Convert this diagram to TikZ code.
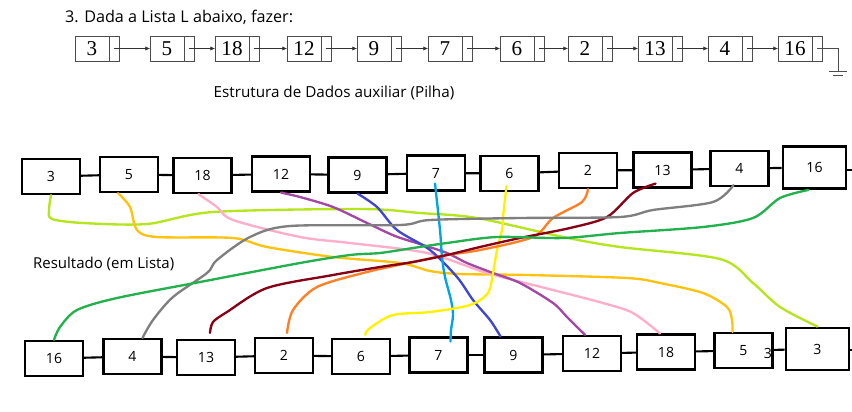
\documentclass[tikz,border=0pt]{standalone}
\usepackage{fontspec}
\setmainfont{Open Sans}
\newfontfamily\numfont{Liberation Serif}
\usetikzlibrary{positioning,calc,arrows.meta}
\definecolor{clime}{HTML}{B5E61D}
\definecolor{cgold}{HTML}{FFC20E}
\definecolor{cpink}{HTML}{FFAEC9}
\definecolor{cpurple}{HTML}{A349A4}
\definecolor{cblue}{HTML}{3F48CC}
\definecolor{csky}{HTML}{00A2E8}
\definecolor{cyellow}{HTML}{FFF200}
\definecolor{corange}{HTML}{FF7F27}
\definecolor{cmaroon}{HTML}{880015}
\definecolor{cgray}{HTML}{7F7F7F}
\definecolor{cgreen}{HTML}{22B14C}
\tikzset{
  cell/.style={draw=black!70, line width=0.6pt, outer sep=0pt, inner sep=0pt, minimum height=7.5mm},
  datacell/.style={cell, minimum width=10.2mm, font=\numfont\fontsize{18}{18}\selectfont},
  ptrcell/.style={cell, minimum width=3mm},
  hbox/.style={draw, line width=1.9pt, minimum width=17.4mm, minimum height=10.5mm, font=\fontsize{12}{12}\selectfont},
  bigbox/.style={hbox, line width=2.4pt, minimum width=18.9mm, minimum height=12.6mm},
  link/.style={line width=1.8pt},
  trail/.style={line width=2pt, line cap=round, line join=round}
}
\begin{document}
\begin{tikzpicture}[x=0.3mm, y=-0.3mm]
        \useasboundingbox (0,0) rectangle (852,411);
        \node[anchor=west, font=\fontsize{13.8}{16}\selectfont] (title) at (61,17) {3. Dada a Lista L abaixo, fazer:};
        \node[font=\fontsize{13}{15}\selectfont] (aux) at (334,93) {Estrutura de Dados auxiliar (Pilha)};
        \node[anchor=west, font=\fontsize{12.8}{15}\selectfont] (res) at (29,264) {Resultado (em Lista)};
        % lista L
        \foreach \x/\v [count=\i] in {75/3, 150/5, 215/18, 287/12, 357/9, 428/7, 500/6, 568/2, 638/13, 708/4, 778/16}
            {\node[datacell, anchor=west] (a\i) at (\x, 48.5) {\v}; \node[ptrcell, right=0pt of a\i] (p\i) {};};
        \foreach \i [evaluate=\i as \j using int(\i+1)] in {1,...,10}
            \draw[black!80, -{Latex[length=4pt, width=3.5pt]}] (p\i.center) -- (a\j);
        \coordinate (g) at (838, 71);
        \draw[black!70, line width=0.6pt] (p11.center) -|  (g);
        \draw[black!70, line width=0.6pt] ($(g)+(-9,0)$) -- ($(g)+(9,0)$) ($(g)+(-5,4)$) -- ($(g)+(5,4)$);
        % pilha
        \foreach \x/\y/\v in {51/176.5/3, 129/174.5/5, 202.5/175.5/18, 281/174/12, 357.5/175/9, 436/173/7, 509.5/173.5/6, 588/170.5/2, 662.5/170/13, 739.5/168.5/4}
            \node[hbox] (u\v) at (\x, \y) {\v};
        \node[bigbox] (u16) at (814.5, 167.5) {16};
        % resultado
        \foreach \x/\y/\v in {54/358.5/16, 132.5/356.5/4, 206/357.5/13, 284/355.5/2, 361/356.5/6, 438.5/355/7, 513.5/355/9, 592/353.5/12, 666/352/18, 743.5/350.5/5}
            \node[hbox] (v\v) at (\x, \y) {\v};
        \node[bigbox] (v3) at (817.5, 349) {3};
        \node[font=\fontsize{12}{12}\selectfont] (stray) at (768, 353) {3};
        \foreach \a/\b in {3/5, 5/18, 18/12, 12/9, 9/7, 7/6, 6/2, 2/13, 13/4, 4/16}
            \draw[link] (u\a) -- (u\b);
        \foreach \a/\b in {16/4, 4/13, 13/2, 2/6, 6/7, 7/9, 9/12, 12/18, 18/5, 5/3}
            \draw[link] (v\a) -- (v\b);
        \coordinate (uend) at (852, 170);
        \coordinate (vend) at (852, 350);
        \draw[link] (u16.east |- uend) -- (uend);
        \draw[link] (v3.east |- vend) -- (vend);
        % caminhos
        \draw[trail, clime] plot[smooth] coordinates {(u3.south) (49,210) (52,219) (83,223) (147,224) (213,212) (362,209) (420,213) (477,218) (563,237) (620,247) (720,259) (753,283) (780,307) (v3.north)};
        \draw[trail, cgold] plot[smooth] coordinates {($(u5.south)+(-11,0)$) (130,207) (137,230) (157,237) (233,238) (267,247) (333,257) (400,263) (430,271) (460,274) (527,275) (627,278) (660,283) (703,293) (727,307) (732,320) ($(v5.north)+(-11,0)$)};
        \draw[trail, cpink] plot[smooth] coordinates {($(u18.south)+(-4,0)$) (217,207) (233,220) (300,237) (350,243) (427,253) (487,273) (553,290) (603,303) (633,313) ($(v18.north)+(-6,0)$)};
        \draw[trail, cpurple] plot[smooth] coordinates {(u12.south) (300,197) (333,207) (367,223) (395,236) (423,245) (447,253) (467,263) (493,273) (520,283) (553,303) (567,317) ($(v12.north)+(-7,0)$)};
        \draw[trail, cblue] plot[smooth] coordinates {(u9.south) (377,207) (397,230) (430,250) (457,277) (473,300) (490,320) ($(v9.north)+(-13,0)$)};
        \draw[trail, csky] plot[smooth] coordinates {($(u7.south)+(-1,-8)$) (440,230) (442,257) (445,277) (451,300) (453,315) (451,330) ($(v7.north)+(12,5)$)};
        \draw[trail, cyellow] plot[smooth] coordinates {($(u6.south)+(-3,-6)$) (503,217) (502,230) (497,250) (493,273) (488,293) (470,305) (430,312) (393,315) (370,328) ($(v6.north)+(4,-3)$)};
        \draw[trail, corange] plot[smooth] coordinates {(u2.south) (582,202) (553,218) (533,237) (480,250) (447,255) (413,262) (367,272) (317,287) (293,310) ($(v2.north)+(3,-4)$)};
        \draw[trail, cmaroon] plot[smooth] coordinates {($(u13.south)+(-7,-5)$) (633,193) (607,217) (570,228) (520,238) (480,247) (447,255) (413,262) (380,267) (333,275) (267,288) (227,312) (213,322) ($(v13.north)+(4,-6)$)};
        \draw[trail, cgray] plot[smooth] coordinates {($(u4.south)+(-6,-2)$) (713,202) (653,210) (620,217) (520,218) (430,220) (400,225) (290,226) (250,237) (217,260) (207,273) (173,297) (153,320) ($(v4.north)+(10,0)$)};
        \draw[trail, cgreen] plot[smooth] coordinates {($(u16.south)+(-6,0)$) (780,198) (753,218) (703,227) (620,233) (563,238) (497,237) (447,243) (413,248) (380,253) (350,255) (300,263) (200,282) (117,298) (77,310) (60,327) (v16.north)};
\end{tikzpicture}
\end{document}
